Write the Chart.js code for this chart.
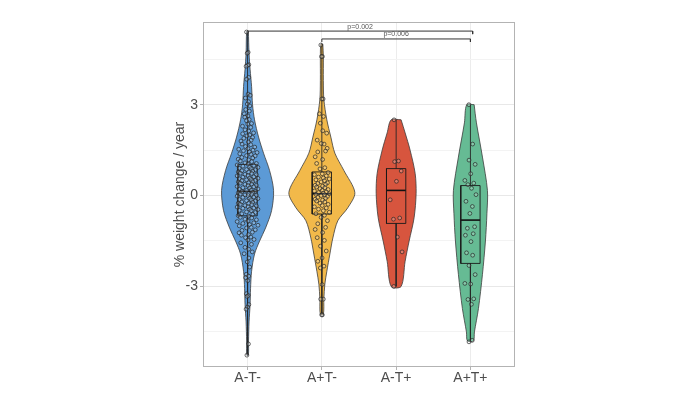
<!DOCTYPE html>
<html><head><meta charset="utf-8">
<script src="https://cdn.jsdelivr.net/npm/chart.js@4.4.1/dist/chart.umd.min.js"></script>
<style>html,body{margin:0;padding:0;background:#fff}#wrap{width:700px;height:394px;position:relative}</style>
</head><body><div id="wrap"><canvas id="c"></canvas></div>
<script>
// ---------- data ----------
const categories = ['A-T-', 'A+T-', 'A-T+', 'A+T+'];
const yTicks = [-3, 0, 3];
const yMinorTicks = [-4.5, -1.5, 1.5, 4.5];

// individual observations (% weight change / year)
const valuesAmTm = [5.4, 4.73, 4.7, 4.32, 4.3, 4.27, 3.9, 3.84, 3.35, 3.31, 3.22, 3.1, 3.02,
  2.96, 2.84, 2.79, 2.7, 2.63, 2.59, 2.51, 2.47, 2.38, 2.36, 2.29, 2.25, 2.17, 2.13, 2.07, 2.04, 2.0,
  1.97, 1.92, 1.89, 1.83, 1.8, 1.77, 1.7, 1.68, 1.62, 1.6, 1.55, 1.53, 1.5,
  1.48, 1.44, 1.42, 1.38, 1.36, 1.32, 1.31, 1.26, 1.24, 1.2, 1.18, 1.14, 1.12, 1.08, 1.06, 1.04, 1.01,
  0.99, 0.97, 0.94, 0.93, 0.9, 0.89, 0.86, 0.85, 0.82, 0.81, 0.78, 0.77, 0.74, 0.73, 0.7, 0.69, 0.66, 0.65, 0.62, 0.61, 0.58, 0.57, 0.55, 0.53, 0.52, 0.5,
  0.49, 0.46, 0.45, 0.42, 0.41, 0.38, 0.37, 0.34, 0.33, 0.3, 0.29, 0.26, 0.25, 0.22, 0.21, 0.18, 0.17, 0.14, 0.13, 0.1, 0.09, 0.06, 0.05, 0.04, 0.02, 0.01, 0.0,
  -0.02, -0.05, -0.06, -0.09, -0.1, -0.13, -0.14, -0.17, -0.18, -0.21, -0.22, -0.25, -0.26, -0.29, -0.3, -0.33, -0.34, -0.37, -0.38, -0.41, -0.42, -0.45, -0.46, -0.49, -0.5,
  -0.54, -0.56, -0.6, -0.62, -0.66, -0.68, -0.72, -0.74, -0.78, -0.8, -0.84, -0.86, -0.9, -0.92, -0.96, -0.98, -1.0,
  -1.05, -1.07, -1.13, -1.15, -1.21, -1.23, -1.29, -1.31, -1.37, -1.39, -1.45, -1.47,
  -1.56, -1.61, -1.71, -1.77, -1.86, -1.92, -2.06, -2.19, -2.36,
  -2.6, -2.66, -2.71, -2.81, -3.24, -3.3, -3.33, -3.6, -3.68, -3.75, -4.9, -5.27];
const valuesApTm = [4.97, 4.59, 4.59, 3.19, 3.19, 2.7, 2.61, 2.39, 2.14, 2.06, 1.83, 1.7, 1.72, 1.56, 1.44, 1.47, 1.28, 1.19, 1.06, 0.92, 0.88,
  0.76, 0.72, 0.69, 0.65, 0.61, 0.58, 0.55, 0.52, 0.49, 0.45, 0.42, 0.4, 0.37, 0.34, 0.31, 0.28, 0.26, 0.23, 0.2, 0.17, 0.15, 0.12, 0.1, 0.08,
  0.06, 0.04, 0.02, 0.0, -0.03, -0.06, -0.09, -0.12, -0.15, -0.18, -0.21, -0.25, -0.29, -0.33, -0.37, -0.41, -0.45, -0.5, -0.55, -0.6,
  -0.65, -0.72, -0.83, -0.93, -1.05, -1.12, -1.22, -1.39, -1.48, -1.67, -1.83, -2.06, -2.17, -2.33, -2.39, -2.94, -3.42, -3.42, -3.94, -3.94];
const valuesAmTp = [2.5, 1.14, 1.12, 0.81, 0.47, -0.14, -0.74, -0.78, -1.37, -1.86, -3.0];
const valuesApTp = [3.0, 1.7, 1.17, 1.03, 0.72, 0.5, 0.41, 0.36, 0.24, 0.03, -0.19, -0.36, -0.59, -1.03, -1.08, -1.26, -1.31, -1.52,
  -1.89, -1.97, -2.31, -2.61, -2.92, -2.9, -3.41, -3.43, -3.59, -4.78, -4.83];

// violin outlines: levels (top to bottom) and half-width (density, in category units)
const violinLevelsAmTm = [5.43, 4.7, 4.17, 3.6, 3.0, 2.5, 1.93, 1.4, 0.83, 0.17, -0.5, -1.07, -1.5, -1.93, -2.5, -3.07, -3.6, -4.17, -4.8, -5.27];
const violinDensAmTm   = [0.011, 0.02, 0.034, 0.054, 0.067, 0.094, 0.148, 0.215, 0.296, 0.35, 0.323, 0.242, 0.162, 0.094, 0.054, 0.04, 0.034, 0.02, 0.013, 0.011];
const violinLevelsApTm = [5.0, 4.6, 3.8, 3.17, 2.5, 1.93, 1.4, 0.83, 0.1, -0.4, -0.83, -1.4, -1.93, -2.5, -2.93, -3.4, -3.93];
const violinDensApTm   = [0.013, 0.02, 0.02, 0.027, 0.067, 0.121, 0.175, 0.296, 0.444, 0.35, 0.215, 0.148, 0.108, 0.067, 0.04, 0.027, 0.02];
const violinLevelsAmTp = [2.5, 2.07, 1.5, 0.73, 0.07, -0.73, -1.5, -2.17, -3.0];
const violinDensAmTp   = [0.067, 0.121, 0.188, 0.256, 0.269, 0.242, 0.175, 0.121, 0.067];
const violinLevelsApTp = [3.0, 2.4, 1.27, 0.17, -0.6, -1.5, -2.6, -3.73, -4.5, -4.8];
const violinDensApTp   = [0.05, 0.081, 0.162, 0.229, 0.222, 0.202, 0.162, 0.108, 0.054, 0.04];

// box statistics per group
const boxMin    = [-5.27, -3.93, -3.0, -4.83];
const boxQ1     = [-0.67, -0.61, -0.92, -2.24];
const boxMedian = [0.14, 0.06, 0.17, -0.81];
const boxQ3     = [1.03, 0.78, 0.89, 0.33];
const boxMax    = [5.43, 5.0, 2.5, 3.0];

// significance comparisons
const compFrom   = [1, 2];
const compTo     = [4.03, 4.0];
const compLevel  = [5.43, 5.17];
const compLabels = ['p=0.002', 'p=0.006'];

// ---------- styling ----------
const fills = ['#5c9ad6', '#f2b94a', '#d7553e', '#66bb94'];
const BOX_HALF = 0.13;
const JITTER = [-0.7, 0.4, -0.25, 0.85, 0.05, -1.0, 0.6, -0.45, 0.2, 1.0, -0.8, 0.35, -0.1, 0.75, -0.55, 0.5, -0.9, 0.1];
const jitterMax = [0.14, 0.1, 0.08, 0.075];
const FONT = '"Liberation Sans", Arial, sans-serif';

const allValues = [valuesAmTm, valuesApTm, valuesAmTp, valuesApTp];
const allLevels = [violinLevelsAmTm, violinLevelsApTm, violinLevelsAmTp, violinLevelsApTp];
const allDens = [violinDensAmTm, violinDensApTm, violinDensAmTp, violinDensApTp];

function localHalfWidth(lv, dn, v) {
  if (v >= lv[0]) return dn[0];
  for (let i = 1; i < lv.length; i++) {
    if (v >= lv[i]) { const t = (lv[i - 1] - v) / (lv[i - 1] - lv[i]); return dn[i - 1] + t * (dn[i] - dn[i - 1]); }
  }
  return dn[dn.length - 1];
}

const datasets = [];
for (let g = 0; g < 4; g++) {
  const c = g + 1;
  const lv = allLevels[g], dn = allDens[g];
  const pts = [];
  for (let i = 0; i < lv.length; i++) pts.push({x: c + dn[i], y: lv[i]});
  for (let i = lv.length - 1; i >= 0; i--) pts.push({x: c - dn[i], y: lv[i]});
  pts.push(pts[0]);
  datasets.push({data: pts, showLine: true, fill: 'shape', backgroundColor: fills[g], borderColor: '#3c3c3c',
    borderWidth: 0.8, pointRadius: 0, tension: 0.3, order: 5});
  datasets.push({data: [{x: c, y: boxQ3[g]}, {x: c, y: boxMax[g]}], showLine: true, borderColor: '#262626', borderWidth: 0.9, pointRadius: 0, fill: false, order: 3});
  datasets.push({data: [{x: c, y: boxQ1[g]}, {x: c, y: boxMin[g]}], showLine: true, borderColor: '#262626', borderWidth: 0.9, pointRadius: 0, fill: false, order: 3});
  datasets.push({data: [{x: c - BOX_HALF, y: boxQ1[g]}, {x: c + BOX_HALF, y: boxQ1[g]}, {x: c + BOX_HALF, y: boxQ3[g]}, {x: c - BOX_HALF, y: boxQ3[g]}, {x: c - BOX_HALF, y: boxQ1[g]}],
    showLine: true, borderColor: '#1a1a1a', borderWidth: 0.9, pointRadius: 0, fill: false, tension: 0, order: 2});
  datasets.push({data: [{x: c - BOX_HALF, y: boxMedian[g]}, {x: c + BOX_HALF, y: boxMedian[g]}], showLine: true, borderColor: '#111', borderWidth: 1.6, pointRadius: 0, fill: false, order: 2});
  const vals = allValues[g];
  datasets.push({data: vals.map((v, i) => {
      const w = Math.min(jitterMax[g], Math.max(0.02, localHalfWidth(lv, dn, v) * 0.6));
      return {x: c + JITTER[i % JITTER.length] * w, y: v};
    }),
    showLine: false, pointRadius: 1.9, pointBorderWidth: 0.8, pointBorderColor: 'rgba(35,35,35,0.85)',
    pointBackgroundColor: 'rgba(255,255,255,0.22)', order: 0});
}
for (let k = 0; k < compFrom.length; k++) {
  const d = 0.1;
  datasets.push({data: [{x: compFrom[k], y: compLevel[k] - d}, {x: compFrom[k], y: compLevel[k]}, {x: compTo[k], y: compLevel[k]}, {x: compTo[k], y: compLevel[k] - d}],
    showLine: true, borderColor: '#333', borderWidth: 1, pointRadius: 0, fill: false, tension: 0, order: 1});
}

const panelPlugin = {
  id: 'panel',
  afterDatasetsDraw(chart) {
    const {ctx, chartArea: a, scales} = chart;
    ctx.save();
    ctx.strokeStyle = '#b3b3b3';
    ctx.lineWidth = 1;
    ctx.strokeRect(Math.round(a.left) + 0.5, Math.round(a.top) + 0.5, Math.round(a.right - a.left) - 1, Math.round(a.bottom - a.top) - 1);
    ctx.fillStyle = '#555';
    ctx.font = '7px ' + FONT;
    ctx.textAlign = 'center';
    ctx.textBaseline = 'bottom';
    for (let k = 0; k < compFrom.length; k++) {
      const x = scales.x.getPixelForValue((compFrom[k] + compTo[k]) / 2);
      const y = scales.y.getPixelForValue(compLevel[k]);
      ctx.fillText(compLabels[k], x, y - 1);
    }
    ctx.restore();
  }
};

new Chart(document.getElementById('c'), {
  type: 'scatter',
  data: {datasets},
  plugins: [panelPlugin],
  options: {
    responsive: true, maintainAspectRatio: false, animation: false,
    events: [],
    layout: {padding: {left: 168, right: 185, top: 22, bottom: 0}},
    plugins: {legend: {display: false}, tooltip: {enabled: false}},
    scales: {
      x: {
        type: 'linear', min: 0.4, max: 4.6,
        afterBuildTicks: s => { s.ticks = [1, 2, 3, 4].map(v => ({value: v})); },
        afterFit: s => { s.height = 27; },
        ticks: {autoSkip: false, maxRotation: 0, padding: 0, color: '#4d4d4d', font: {family: FONT, size: 14},
          callback: v => categories[v - 1]},
        grid: {color: '#ececec', lineWidth: 1, tickColor: '#b3b3b3', tickLength: 3},
        border: {display: false}
      },
      y: {
        min: -5.66, max: 5.73,
        afterBuildTicks: s => { s.ticks = [...yMinorTicks, ...yTicks].sort((a, b) => a - b).map(v => ({value: v})); },
        afterFit: s => { s.width = 35; },
        ticks: {autoSkip: false, padding: 2, color: '#4d4d4d', font: {family: FONT, size: 14},
          callback: v => yTicks.includes(v) ? String(v) : ''},
        grid: {
          color: c => yTicks.includes(c.tick && c.tick.value) ? '#e8e8e8' : '#f3f3f3',
          lineWidth: 1,
          tickColor: c => yTicks.includes(c.tick && c.tick.value) ? '#b3b3b3' : 'rgba(0,0,0,0)',
          tickLength: 3
        },
        border: {display: false},
        title: {display: true, text: '% weight change / year', color: '#4d4d4d', font: {family: FONT, size: 14}, padding: {top: 4, bottom: 4}}
      }
    }
  }
});
</script></body></html>
